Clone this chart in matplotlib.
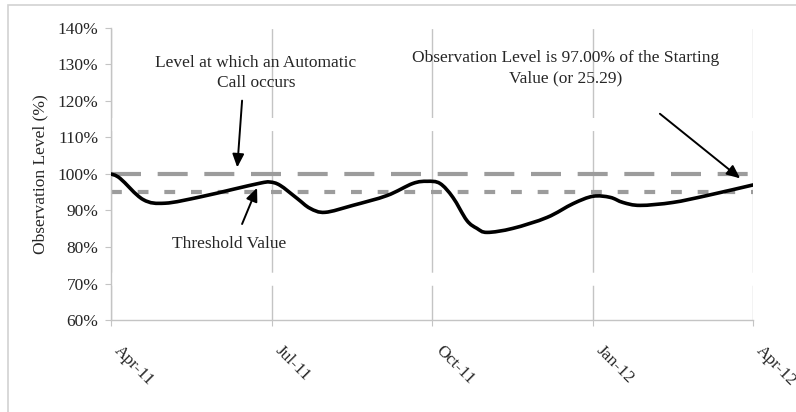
import numpy as np
import matplotlib
matplotlib.use('Agg')
import matplotlib.pyplot as plt
from matplotlib.path import Path
from matplotlib.patches import PathPatch, Rectangle

plt.rcParams['font.family'] = ['Liberation Serif', 'DejaVu Serif']

# data (months after Apr-11, level in %)
obs_month = [0.00, 0.17, 0.60, 1.01, 1.66, 2.28, 2.79, 2.97, 3.16, 3.48, 3.72,
             4.00, 4.52, 5.16, 5.64, 5.91, 6.15, 6.39, 6.65, 6.84, 7.03, 7.51,
             8.15, 8.64, 9.01, 9.33, 9.57, 9.89, 10.50, 11.14, 12.00]
obs_level = [100.0, 98.8, 93.0, 92.0, 93.7, 95.8, 97.5, 97.8, 96.9, 93.3, 90.6,
             89.5, 91.4, 94.1, 97.4, 98.0, 97.4, 93.6, 87.3, 85.1, 84.0, 85.1,
             88.1, 91.9, 93.9, 93.6, 92.2, 91.4, 92.2, 94.1, 97.0]
tick_months = [0, 3, 6, 9, 12]
tick_labels = ['Apr-11', 'Jul-11', 'Oct-11', 'Jan-12', 'Apr-12']
call_level = 100
threshold_level = 95

TXT = '#262626'
GRID = '#c4c4c4'
REF = '#9c9c9c'
FS = 12.5


def smooth_path(xs, ys):
	# catmull-rom curve through the points, like excel's smoothed line
	p = np.column_stack([xs, ys])
	verts = [p[0]]
	codes = [Path.MOVETO]
	n = len(p)
	for i in range(n - 1):
		p0 = p[i - 1] if i > 0 else p[i]
		p3 = p[i + 2] if i + 2 < n else p[i + 1]
		c1 = p[i] + (p[i + 1] - p0) / 6.0
		c2 = p[i + 1] - (p3 - p[i]) / 6.0
		verts += [c1, c2, p[i + 1]]
		codes += [Path.CURVE4] * 3
	return Path(verts, codes)


fig = plt.figure(figsize=(7.96, 4.12), dpi=100)
fig.patches.append(Rectangle((8 / 796, -0.1), 1.2, 1.1 - 5 / 412, transform=fig.transFigure,
                             fill=False, edgecolor='#d2d2d2', lw=1.2))
ax = fig.add_axes([111 / 796, 1 - 320 / 412, 642 / 796, 292 / 412])

ax.set_xlim(0, 12)
ax.set_ylim(60, 140)

# reference levels
ax.axhline(call_level, color=REF, lw=3, linestyle=(0, (7.2, 4.0)), zorder=2)
ax.axhline(threshold_level, color=REF, lw=3, linestyle=(0, (2.6, 3.8)), zorder=2)

# observation line
ax.add_patch(PathPatch(smooth_path(obs_month, obs_level), fill=False,
                       edgecolor='black', lw=2.6, capstyle='round', zorder=3))

ax.set_xticks(tick_months)
ax.set_xticklabels(tick_labels, rotation=-45, ha='left', fontsize=FS, color=TXT)
ax.set_yticks(np.arange(60, 141, 10))
ax.set_yticklabels(['%d%%' % v for v in range(60, 141, 10)], fontsize=FS, color=TXT)
ax.tick_params(axis='x', length=4, color=GRID, pad=12)
ax.tick_params(axis='y', length=4, color=GRID, pad=5)
ax.grid(axis='x', color=GRID, lw=1, linestyle=(0, (25, 9.4, 102, 9.4, 64, 9.4)))
ax.set_axisbelow(True)

for s in ['top', 'right']:
	ax.spines[s].set_visible(False)
for s in ['left', 'bottom']:
	ax.spines[s].set_color(GRID)
	ax.spines[s].set_linewidth(1)

ax.set_ylabel('Observation Level (%)', fontsize=FS, color=TXT, labelpad=7)

arrow = dict(arrowstyle='-|>,head_length=0.8,head_width=0.35', color='black', lw=1.4,
             shrinkA=0, shrinkB=0)
ax.text(2.71, 127.6, 'Level at which an Automatic\nCall occurs', ha='center', va='center',
        fontsize=FS, color=TXT, linespacing=1.3)
ax.annotate('', xy=(2.36, 101.8), xytext=(2.45, 120.1), arrowprops=arrow)
ax.text(2.21, 80.8, 'Threshold Value', ha='center', va='center', fontsize=FS, color=TXT)
ax.annotate('', xy=(2.73, 96.2), xytext=(2.45, 86.3), arrowprops=arrow)
ax.text(8.5, 129.0, 'Observation Level is 97.00% of the Starting\nValue (or 25.29)',
        ha='center', va='center', fontsize=FS, color=TXT, linespacing=1.3)
ax.annotate('', xy=(11.76, 98.8), xytext=(10.26, 116.5), arrowprops=arrow)

fig.savefig('out.png', dpi=100)
